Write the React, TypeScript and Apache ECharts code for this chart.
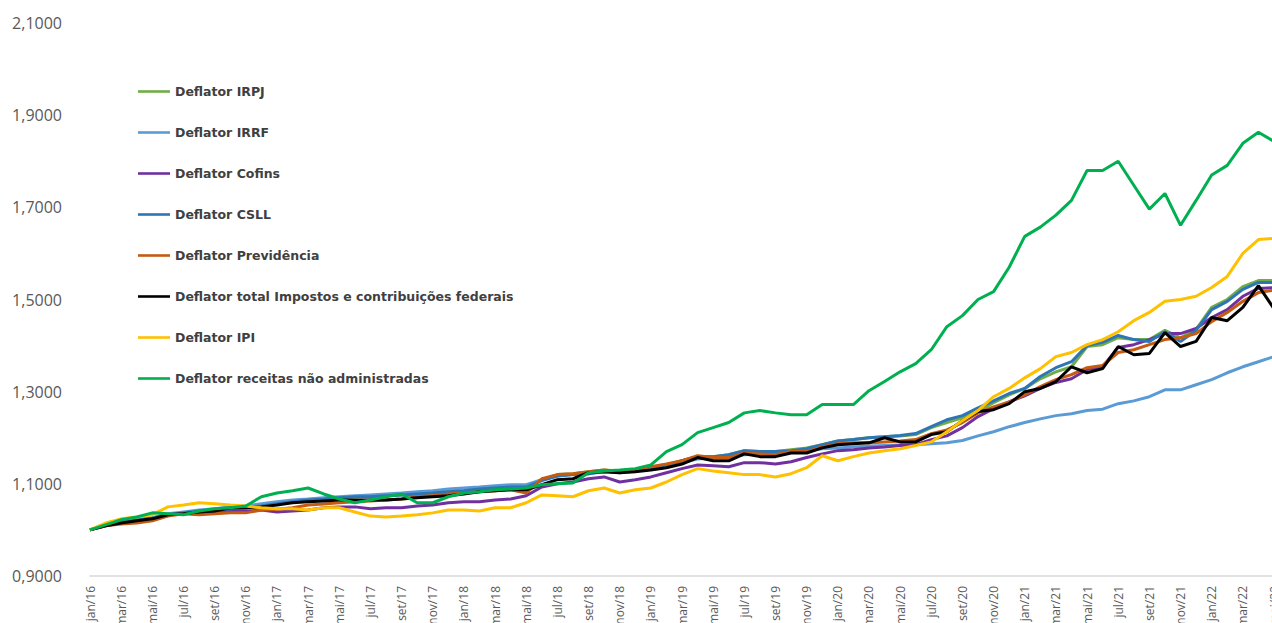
import React, { useEffect, useRef } from "react";
import * as echarts from "echarts";

const categories = [
  "jan/16","fev/16","mar/16","abr/16","mai/16","jun/16","jul/16","ago/16","set/16","out/16","nov/16","dez/16",
  "jan/17","fev/17","mar/17","abr/17","mai/17","jun/17","jul/17","ago/17","set/17","out/17","nov/17","dez/17",
  "jan/18","fev/18","mar/18","abr/18","mai/18","jun/18","jul/18","ago/18","set/18","out/18","nov/18","dez/18",
  "jan/19","fev/19","mar/19","abr/19","mai/19","jun/19","jul/19","ago/19","set/19","out/19","nov/19","dez/19",
  "jan/20","fev/20","mar/20","abr/20","mai/20","jun/20","jul/20","ago/20","set/20","out/20","nov/20","dez/20",
  "jan/21","fev/21","mar/21","abr/21","mai/21","jun/21","jul/21","ago/21","set/21","out/21","nov/21","dez/21",
  "jan/22","fev/22","mar/22","abr/22","mai/22",
];

const irpj = [
  1.000,1.011,1.016,1.022,1.026,1.033,1.037,1.041,1.043,1.046,1.048,1.052,
  1.057,1.061,1.065,1.068,1.070,1.072,1.073,1.074,1.076,1.078,1.080,1.083,
  1.085,1.089,1.091,1.093,1.094,1.109,1.120,1.122,1.126,1.130,1.128,1.130,
  1.135,1.141,1.150,1.159,1.159,1.163,1.172,1.170,1.170,1.174,1.178,1.185,
  1.193,1.196,1.200,1.202,1.204,1.207,1.222,1.233,1.243,1.257,1.276,1.293,
  1.307,1.328,1.343,1.354,1.398,1.402,1.417,1.413,1.413,1.433,1.417,1.435,
  1.483,1.500,1.528,1.541,1.541,
];

const irrf = [
  1.000,1.011,1.017,1.022,1.026,1.035,1.039,1.043,1.046,1.050,1.052,1.057,
  1.061,1.065,1.067,1.070,1.072,1.074,1.076,1.078,1.080,1.083,1.085,1.089,
  1.091,1.093,1.096,1.098,1.098,1.109,1.117,1.120,1.122,1.126,1.124,1.128,
  1.133,1.139,1.146,1.154,1.157,1.159,1.163,1.165,1.167,1.170,1.172,1.176,
  1.178,1.180,1.182,1.183,1.184,1.185,1.187,1.189,1.194,1.204,1.213,1.224,
  1.233,1.241,1.248,1.252,1.259,1.262,1.274,1.280,1.289,1.304,1.304,1.315,
  1.326,1.341,1.354,1.365,1.376,
];

const cofins = [
  1.000,1.009,1.015,1.020,1.024,1.033,1.035,1.037,1.039,1.041,1.041,1.043,
  1.039,1.041,1.043,1.048,1.050,1.050,1.046,1.048,1.048,1.052,1.054,1.059,
  1.061,1.061,1.065,1.067,1.074,1.093,1.100,1.104,1.111,1.115,1.104,1.109,
  1.115,1.124,1.133,1.141,1.139,1.137,1.146,1.146,1.143,1.148,1.157,1.165,
  1.172,1.174,1.178,1.180,1.183,1.185,1.196,1.204,1.222,1.246,1.263,1.278,
  1.291,1.307,1.320,1.328,1.348,1.354,1.396,1.402,1.413,1.426,1.426,1.437,
  1.461,1.478,1.507,1.524,1.526,
];

const csll = [
  1.000,1.011,1.016,1.022,1.026,1.033,1.037,1.041,1.043,1.046,1.048,1.052,
  1.057,1.061,1.065,1.067,1.070,1.072,1.072,1.074,1.076,1.078,1.080,1.083,
  1.085,1.089,1.091,1.093,1.093,1.107,1.117,1.120,1.122,1.128,1.126,1.130,
  1.135,1.141,1.150,1.159,1.159,1.163,1.172,1.170,1.170,1.172,1.176,1.185,
  1.193,1.196,1.200,1.202,1.205,1.209,1.224,1.239,1.248,1.265,1.280,1.296,
  1.307,1.333,1.352,1.365,1.400,1.407,1.422,1.413,1.409,1.430,1.409,1.433,
  1.478,1.496,1.522,1.537,1.537,
];

const previdencia = [
  1.000,1.009,1.013,1.015,1.020,1.030,1.035,1.033,1.035,1.037,1.037,1.043,
  1.045,1.048,1.054,1.056,1.059,1.061,1.063,1.065,1.067,1.072,1.074,1.078,
  1.080,1.083,1.085,1.087,1.080,1.111,1.120,1.122,1.126,1.130,1.126,1.130,
  1.137,1.143,1.150,1.161,1.157,1.157,1.167,1.165,1.163,1.170,1.170,1.180,
  1.187,1.189,1.189,1.191,1.193,1.196,1.209,1.217,1.233,1.254,1.267,1.278,
  1.293,1.311,1.326,1.337,1.352,1.357,1.385,1.391,1.402,1.413,1.417,1.426,
  1.452,1.472,1.496,1.515,1.520,
];

const total = [
  1.000,1.009,1.015,1.020,1.024,1.033,1.035,1.039,1.041,1.048,1.048,1.050,
  1.054,1.059,1.061,1.063,1.065,1.065,1.065,1.065,1.067,1.070,1.072,1.074,
  1.078,1.083,1.085,1.087,1.087,1.098,1.109,1.111,1.124,1.126,1.124,1.126,
  1.130,1.135,1.143,1.157,1.150,1.150,1.165,1.159,1.159,1.167,1.167,1.178,
  1.185,1.187,1.189,1.200,1.191,1.191,1.207,1.213,1.237,1.257,1.261,1.274,
  1.300,1.307,1.322,1.354,1.341,1.350,1.398,1.380,1.383,1.428,1.398,1.409,
  1.461,1.454,1.483,1.530,1.480,
];

const ipi = [
  1.000,1.015,1.024,1.028,1.033,1.050,1.054,1.059,1.057,1.054,1.052,1.048,
  1.046,1.046,1.043,1.048,1.048,1.039,1.030,1.028,1.030,1.033,1.037,1.043,
  1.043,1.041,1.048,1.048,1.059,1.076,1.074,1.072,1.085,1.091,1.080,1.087,
  1.091,1.104,1.120,1.133,1.128,1.124,1.120,1.120,1.115,1.122,1.135,1.161,
  1.150,1.159,1.167,1.172,1.176,1.183,1.191,1.213,1.237,1.259,1.289,1.307,
  1.330,1.350,1.376,1.385,1.402,1.413,1.430,1.454,1.472,1.496,1.500,1.507,
  1.526,1.550,1.600,1.630,1.633,
];

const naoAdministradas = [
  1.000,1.011,1.022,1.028,1.037,1.035,1.033,1.041,1.046,1.048,1.052,1.072,
  1.080,1.085,1.091,1.078,1.067,1.059,1.065,1.072,1.078,1.059,1.059,1.072,
  1.080,1.083,1.087,1.089,1.091,1.098,1.100,1.102,1.124,1.128,1.130,1.133,
  1.141,1.170,1.185,1.211,1.222,1.233,1.254,1.259,1.254,1.250,1.250,1.272,
  1.272,1.272,1.302,1.322,1.343,1.361,1.391,1.441,1.465,1.500,1.517,1.570,
  1.637,1.657,1.683,1.715,1.780,1.780,1.800,1.748,1.696,1.730,1.661,1.715,
  1.770,1.791,1.839,1.863,1.843,
];

const seriesDefs = [
  { name: "Deflator IRPJ", data: irpj, color: "#70AD47" },
  { name: "Deflator IRRF", data: irrf, color: "#5B9BD5" },
  { name: "Deflator Cofins", data: cofins, color: "#7030A0" },
  { name: "Deflator CSLL", data: csll, color: "#2E75B6" },
  { name: "Deflator Previdência", data: previdencia, color: "#C55A11" },
  { name: "Deflator total Impostos e contribuições federais", data: total, color: "#000000" },
  { name: "Deflator IPI", data: ipi, color: "#FFC000" },
  { name: "Deflator receitas não administradas", data: naoAdministradas, color: "#00B050" },
];

export default function App() {
  const ref = useRef<HTMLDivElement>(null);
  useEffect(() => {
    if (!ref.current) return;
    const chart = echarts.init(ref.current, undefined, { renderer: "svg" });
    chart.setOption({
      animation: false,
      backgroundColor: "#ffffff",
      textStyle: { fontFamily: "Open Sans" },
      grid: { left: 90, right: 26, top: 23, bottom: 47, outerBoundsMode: "none", containLabel: false },
      legend: {
        orient: "vertical",
        left: 133,
        top: 80,
        itemWidth: 32,
        itemHeight: 14,
        itemGap: 28,
        data: seriesDefs.map((s) => ({
          name: s.name,
          icon: "path://M0,6 L32,6 L32,8.6 L0,8.6 Z",
        })),
        textStyle: { fontSize: 12.5, fontWeight: "bold", color: "#404040", fontFamily: "DejaVu Sans" },
      },
      xAxis: {
        type: "category",
        data: categories,
        boundaryGap: false,
        axisLine: { lineStyle: { color: "#D9D9D9", width: 1.5 } },
        axisTick: { show: false },
        axisLabel: {
          interval: 1,
          rotate: 90,
          fontSize: 12,
          color: "#595959",
          margin: 10,
          fontFamily: "Open Sans",
        },
        splitLine: { show: false },
      },
      yAxis: {
        type: "value",
        min: 0.9,
        max: 2.1,
        interval: 0.2,
        axisLine: { show: false },
        axisTick: { show: false },
        splitLine: { show: false },
        axisLabel: {
          fontSize: 16,
          color: "#595959",
          margin: 28,
          fontFamily: "Open Sans",
          formatter: (v: number) => v.toFixed(4).replace(".", ","),
        },
      },
      series: seriesDefs.map((s) => ({
        name: s.name,
        type: "line",
        data: s.data,
        symbol: "none",
        color: s.color,
        lineStyle: { color: s.color, width: 3 },
        itemStyle: { color: s.color },
      })),
    });
    return () => chart.dispose();
  }, []);
  return (
    <div style={{ position: "fixed", left: 0, top: 0, width: 1272, height: 623, overflow: "hidden", background: "#fff" }}>
      <div ref={ref} style={{ width: 1300, height: 623 }} />
    </div>
  );
}
